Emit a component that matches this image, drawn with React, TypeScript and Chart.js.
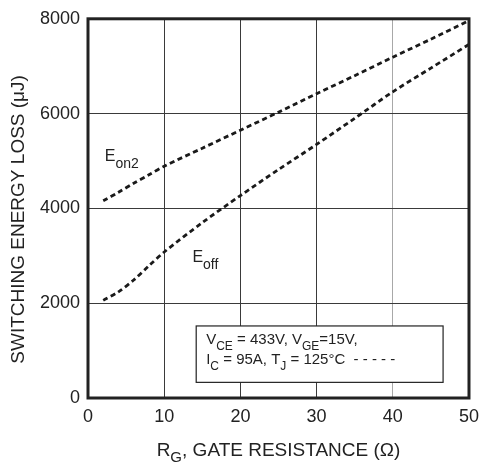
import React, { useEffect, useRef } from "react";
import { Chart, registerables } from "chart.js";

Chart.register(...registerables);

const rgValues = [2, 4, 6, 8, 10, 15, 20, 25, 30, 35, 40, 45, 50];
const eon2Values = [4160, 4340, 4530, 4710, 4890, 5270, 5650, 6030, 6420, 6800, 7190, 7570, 7960];
const eoffValues = [2060, 2240, 2490, 2790, 3080, 3700, 4270, 4820, 5350, 5900, 6460, 6960, 7460];
const xTicks = [0, 10, 20, 30, 40, 50];
const yTicks = [0, 2000, 4000, 6000, 8000];
const xTitle = [{ t: "R" }, { t: "G", sub: true }, { t: ", GATE RESISTANCE (Ω)" }];
const yTitle = "SWITCHING ENERGY LOSS (μJ)";
const legendLine1 = [{ t: "V" }, { t: "CE", sub: true }, { t: " = 433V, V" }, { t: "GE", sub: true }, { t: "=15V," }];
const legendLine2 = [{ t: "I" }, { t: "C", sub: true }, { t: " = 95A, T" }, { t: "J", sub: true }, { t: " = 125°C  - - - - -" }];
const eon2Label = [{ t: "E" }, { t: "on2", sub: true }];
const eoffLabel = [{ t: "E" }, { t: "off", sub: true }];

const FONT = '"Liberation Sans", Arial, Helvetica, sans-serif';

type Part = { t: string; sub?: boolean };

function richWidth(ctx: CanvasRenderingContext2D, parts: Part[], size: number, subSize: number) {
  let w = 0;
  for (const p of parts) {
    ctx.font = `${p.sub ? subSize : size}px ${FONT}`;
    w += ctx.measureText(p.t).width;
  }
  return w;
}

function drawRich(
  ctx: CanvasRenderingContext2D,
  x: number,
  y: number,
  parts: Part[],
  size: number,
  subSize: number,
  subDy: number
) {
  let cx = x;
  for (const p of parts) {
    ctx.font = `${p.sub ? subSize : size}px ${FONT}`;
    ctx.fillText(p.t, cx, p.sub ? y + subDy : y);
    cx += ctx.measureText(p.t).width;
  }
}

const overlayPlugin = {
  id: "overlay",
  afterDraw(chart: any) {
    const { ctx, chartArea, scales } = chart;
    const xs = scales.x;
    const ys = scales.y;
    ctx.save();
    // frame
    ctx.strokeStyle = "#222";
    ctx.lineWidth = 3;
    ctx.strokeRect(chartArea.left, chartArea.top, chartArea.right - chartArea.left, chartArea.bottom - chartArea.top);

    ctx.fillStyle = "#222";
    ctx.textBaseline = "alphabetic";
    ctx.textAlign = "left";

    // curve labels
    drawRich(ctx, xs.getPixelForValue(2.2), ys.getPixelForValue(5000), eon2Label, 16, 14, 7);
    drawRich(ctx, xs.getPixelForValue(13.7), ys.getPixelForValue(2875), eoffLabel, 16, 14, 7);

    // legend box
    const bx0 = xs.getPixelForValue(14.2);
    const bx1 = xs.getPixelForValue(46.6);
    const by0 = ys.getPixelForValue(1520);
    const by1 = ys.getPixelForValue(330);
    ctx.fillStyle = "#fff";
    ctx.fillRect(bx0, by0, bx1 - bx0, by1 - by0);
    ctx.strokeStyle = "#222";
    ctx.lineWidth = 1.2;
    ctx.strokeRect(bx0, by0, bx1 - bx0, by1 - by0);
    ctx.fillStyle = "#222";
    drawRich(ctx, bx0 + 10, by0 + 18, legendLine1, 15, 12, 6);
    drawRich(ctx, bx0 + 10, by0 + 38, legendLine2, 15, 12, 6);

    // x title
    const cxMid = (chartArea.left + chartArea.right) / 2;
    const w = richWidth(ctx, xTitle, 19, 15);
    drawRich(ctx, cxMid - w / 2, 456, xTitle, 19, 15, 6);

    // y title
    ctx.translate(19, (chartArea.top + chartArea.bottom) / 2 + 11);
    ctx.rotate(-Math.PI / 2);
    ctx.font = `19px ${FONT}`;
    ctx.textAlign = "center";
    ctx.textBaseline = "middle";
    ctx.fillText(yTitle, 0, 0);
    ctx.restore();
  },
};

export default function App() {
  const ref = useRef<HTMLCanvasElement | null>(null);
  useEffect(() => {
    if (!ref.current) return;
    const dashed = {
      borderColor: "#1a1a1a",
      borderWidth: 2.8,
      borderDash: [5, 3.5],
      pointRadius: 0,
      fill: false,
      tension: 0.3,
    };
    const chart = new Chart(ref.current, {
      type: "line",
      data: {
        datasets: [
          { label: "Eon2", data: rgValues.map((x, i) => ({ x, y: eon2Values[i] })), ...dashed },
          { label: "Eoff", data: rgValues.map((x, i) => ({ x, y: eoffValues[i] })), ...dashed },
        ],
      },
      options: {
        animation: false,
        responsive: false,
        devicePixelRatio: 1,
        layout: { padding: { top: 14, right: 15, left: 0, bottom: 0 } },
        plugins: { legend: { display: false }, tooltip: { enabled: false } },
        scales: {
          x: {
            type: "linear",
            min: 0,
            max: 50,
            afterBuildTicks: (s: any) => {
              s.ticks = xTicks.map((v) => ({ value: v }));
            },
            afterFit: (s: any) => {
              s.height = 64;
            },
            ticks: {
              font: { family: FONT, size: 18 },
              color: "#222",
              padding: 8,
              maxRotation: 0,
              callback: (v: any) => String(v),
            },
            grid: {
              drawTicks: false,
              lineWidth: 1,
              color: (c: any) => (c.tick && c.tick.value === 40 ? "#a8a8a8" : "#3a3a3a"),
            },
            border: { display: false },
          },
          y: {
            type: "linear",
            min: 0,
            max: 8000,
            afterBuildTicks: (s: any) => {
              s.ticks = yTicks.map((v) => ({ value: v }));
            },
            afterFit: (s: any) => {
              s.width = 88;
            },
            ticks: {
              font: { family: FONT, size: 18 },
              color: "#222",
              padding: 8,
              callback: (v: any) => String(v),
            },
            grid: { drawTicks: false, lineWidth: 1, color: "#3a3a3a" },
            border: { display: false },
          },
        },
      },
      plugins: [overlayPlugin],
    });
    return () => chart.destroy();
  }, []);
  return (
    <div style={{ position: "absolute", left: 0, top: 0, width: 487, height: 462, background: "#fff" }}>
      <canvas ref={ref} width={487} height={462} />
    </div>
  );
}
